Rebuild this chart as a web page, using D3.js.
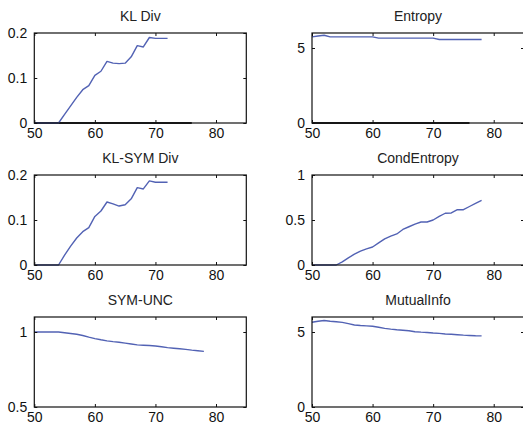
<!DOCTYPE html>
<html>
<head>
<meta charset="utf-8">
<script src="https://cdn.jsdelivr.net/npm/d3@7"></script>
<style>
  body { margin: 0; background: #fff; }
  svg { display: block; font-family: "Liberation Sans", Arial, sans-serif; }
</style>
</head>
<body>
<div id="chart"></div>
<script>
// x positions of the samples
const xLong = [50,51,52,53,54,55,56,57,58,59,60,61,62,63,64,65,66,67,68,69,70,71,72,73,74,75,76,77,78]
const xShort = [50,51,52,53,54,55,56,57,58,59,60,61,62,63,64,65,66,67,68,69,70,71,72]
const xZero = [50, 76]
const zeroVals = [0, 0]

// series values
const klDiv = [0,0,0,0,0,0.019,0.038,0.057,0.074,0.083,0.106,0.115,0.137,0.133,0.132,0.133,0.147,0.172,0.169,0.19,0.188,0.188,0.188]
const klSymDiv = [0,0,0,0,0,0.022,0.042,0.06,0.074,0.083,0.108,0.12,0.14,0.136,0.131,0.134,0.147,0.172,0.169,0.187,0.184,0.184,0.184]
const entropy = [5.74,5.8,5.85,5.74,5.74,5.74,5.74,5.74,5.74,5.74,5.74,
  5.66,5.66,5.66,5.66,5.66,5.66,5.66,5.66,5.66,5.66,
  5.57,5.57,5.57,5.57,5.57,5.57,5.57,5.57]
const condEntropy = [0,0,0,0,0,0.035,0.08,0.12,0.155,0.18,0.2,0.245,0.29,0.32,0.345,0.395,0.425,0.455,0.478,0.478,0.5,0.54,0.575,0.578,0.614,0.614,0.65,0.685,0.717]
const symUnc = [1,1,1,1,1,0.995,0.99,0.985,0.977,0.966,0.956,0.948,0.941,0.936,0.932,0.926,0.92,0.914,0.912,0.91,0.907,0.902,0.896,0.892,0.888,0.884,0.879,0.875,0.871]
const mutualInfo = [5.65,5.72,5.77,5.72,5.68,5.64,5.56,5.47,5.43,5.41,5.38,5.32,5.24,5.19,5.15,5.12,5.08,5.02,4.99,4.97,4.93,4.91,4.87,4.85,4.82,4.79,4.77,4.75,4.74]

// titles and tick labels
const titles = ["KL Div", "Entropy", "KL-SYM Div", "CondEntropy", "SYM-UNC", "MutualInfo"]
const xTicks = [50, 60, 70, 80]
const xDomain = [50, 85]
const yDomains = [[0, 0.2], [0, 6], [0, 0.2], [0, 1], [0.5, 1.1], [0, 6]]
const yTicks = [[0, 0.1, 0.2], [0, 5], [0, 0.1, 0.2], [0, 0.5, 1], [0.5, 1], [0, 5]]

const panels = [
  {x: xShort, y: klDiv, zero: true},
  {x: xLong, y: entropy, zero: true},
  {x: xShort, y: klSymDiv, zero: false},
  {x: xLong, y: condEntropy, zero: false},
  {x: xLong, y: symUnc, zero: false},
  {x: xLong, y: mutualInfo, zero: false}
]

const W = 523, H = 428
const colLeft = [34.3, 312]
const rowTop = [33, 175, 317]
const pw = 212, ph = 90

const svg = d3.select("#chart").append("svg")
  .attr("width", W)
  .attr("height", H)

svg.append("rect").attr("width", W).attr("height", H).attr("fill", "#fff")

panels.forEach(function(p, i) {
  const col = i % 2, row = Math.floor(i / 2)
  const g = svg.append("g")
    .attr("transform", "translate(" + colLeft[col] + "," + rowTop[row] + ")")

  const x = d3.scaleLinear().domain(xDomain).range([0, pw])
  const y = d3.scaleLinear().domain(yDomains[i]).range([ph, 0])
  const fmt = d => String(d)

  // title
  g.append("text")
    .attr("x", pw / 2)
    .attr("y", -12)
    .attr("text-anchor", "middle")
    .attr("font-size", 14)
    .attr("fill", "#222")
    .text(titles[i])

  // black zero line, then the blue series
  const line = d3.line().x(d => x(d[0])).y(d => y(d[1]))
  if (p.zero) {
    g.append("path")
      .datum(xZero.map((v, k) => [v, zeroVals[k]]))
      .attr("d", line)
      .attr("fill", "none")
      .attr("stroke", "#222")
      .attr("stroke-width", 2)
  }
  g.append("path")
    .datum(p.x.map((v, k) => [v, p.y[k]]))
    .attr("d", line)
    .attr("fill", "none")
    .attr("stroke", "#5262b4")
    .attr("stroke-width", 1.4)
    .attr("stroke-linejoin", "round")

  // axes, ticks pointing inward on all four sides
  const bottom = g.append("g").attr("transform", "translate(0," + ph + ")")
    .call(d3.axisBottom(x).tickValues(xTicks).tickFormat(fmt).tickSizeInner(-3).tickSizeOuter(0).tickPadding(5))
  const top = g.append("g")
    .call(d3.axisTop(x).tickValues(xTicks).tickFormat("").tickSizeInner(-3).tickSizeOuter(0))
  const left = g.append("g")
    .call(d3.axisLeft(y).tickValues(yTicks[i]).tickFormat(fmt).tickSizeInner(-3).tickSizeOuter(0).tickPadding(7))
  const right = g.append("g").attr("transform", "translate(" + pw + ",0)")
    .call(d3.axisRight(y).tickValues(yTicks[i]).tickFormat("").tickSizeInner(-3).tickSizeOuter(0))

  ;[bottom, top, left, right].forEach(function(a) {
    a.select(".domain").remove()
    a.selectAll("line").attr("stroke", "#111")
    a.selectAll("text")
      .attr("font-size", 14)
      .attr("fill", "#111")
      .attr("font-family", "\"Liberation Sans\", Arial, sans-serif")
  })

  // box
  g.append("rect")
    .attr("width", pw)
    .attr("height", ph)
    .attr("fill", "none")
    .attr("stroke", "#111")
    .attr("stroke-width", 1.2)
})
</script>
</body>
</html>
